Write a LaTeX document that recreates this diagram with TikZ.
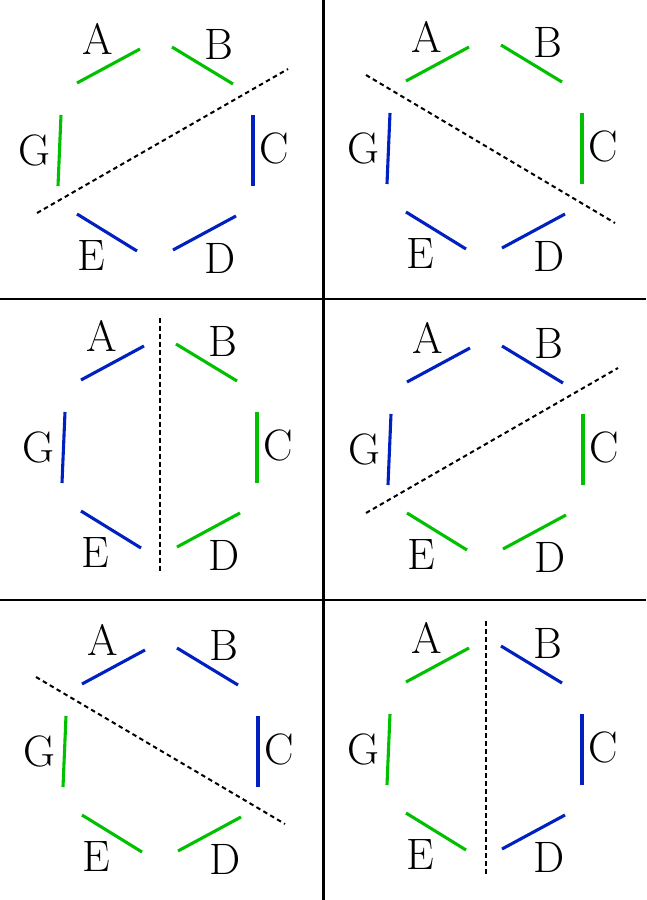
\documentclass[tikz,border=0pt]{standalone}
\usepackage{fontspec}
\definecolor{hgreen}{RGB}{0,192,0}
\definecolor{hblue}{RGB}{0,32,192}
\tikzset{
  seg/.style={line width=3.1pt},
  cutline/.style={line width=2pt, dash pattern=on 4.5pt off 3.5pt},
  lbl/.style={inner sep=0pt, font=\fontsize{44}{48}\selectfont},
  gridline/.style={line width=2.2pt}
}
\newcommand\hexpanel[9]{%
  \begin{scope}[shift={#2}]
    \draw[seg,#3] (77,83) -- (140,49);
    \draw[seg,#4] (172,47) -- (233,84);
    \draw[seg,#5] (253,115) -- (253,186);
    \draw[seg,#6] (173,250) -- (236,216);
    \draw[seg,#7] (77,214) -- (137,251);
    \draw[seg,#8] (61,115) -- (58,186);
    \node[lbl] (#1A) at (97.5,39) {A};
    \node[lbl] (#1B) at (219,44) {B};
    \node[lbl] (#1C) at (274,148) {C};
    \node[lbl] (#1D) at (220,258) {D};
    \node[lbl] (#1E) at (91,256) {E};
    \node[lbl] (#1G) at (34,150) {G};
    \draw[cutline] #9;
  \end{scope}}
\begin{document}
\begin{tikzpicture}[x=1pt,y=-1pt]
  \useasboundingbox (0,0) rectangle (646,900);
  \coordinate (vt) at (323.5,0);
  \coordinate (vb) at (323.5,900);
  \coordinate (h1l) at (0,299);
  \coordinate (h1r) at (646,299);
  \coordinate (h2l) at (0,600);
  \coordinate (h2r) at (646,600);
  \draw[gridline] (vt) -- (vb);
  \draw[gridline] (h1l) -- (h1r);
  \draw[gridline] (h2l) -- (h2r);
  \hexpanel{p1}{(0,0)}{hgreen}{hgreen}{hblue}{hblue}{hblue}{hgreen}{(37,213) -- (288,69)}
  \hexpanel{p2}{(329,-2)}{hgreen}{hgreen}{hgreen}{hblue}{hblue}{hblue}{(37,77) -- (286,225)}
  \hexpanel{p3}{(4,297)}{hblue}{hgreen}{hgreen}{hgreen}{hblue}{hblue}{(156,21) -- (156,277)}
  \hexpanel{p4}{(5,601)}{hblue}{hblue}{hblue}{hgreen}{hgreen}{hgreen}{(31,76) -- (280,223)}
  \hexpanel{p5}{(330,299)}{hblue}{hblue}{hgreen}{hgreen}{hgreen}{hblue}{(36,214) -- (288,69)}
  \hexpanel{p6}{(329,599)}{hgreen}{hblue}{hblue}{hblue}{hgreen}{hgreen}{(157,22) -- (157,278)}
\end{tikzpicture}
\end{document}
